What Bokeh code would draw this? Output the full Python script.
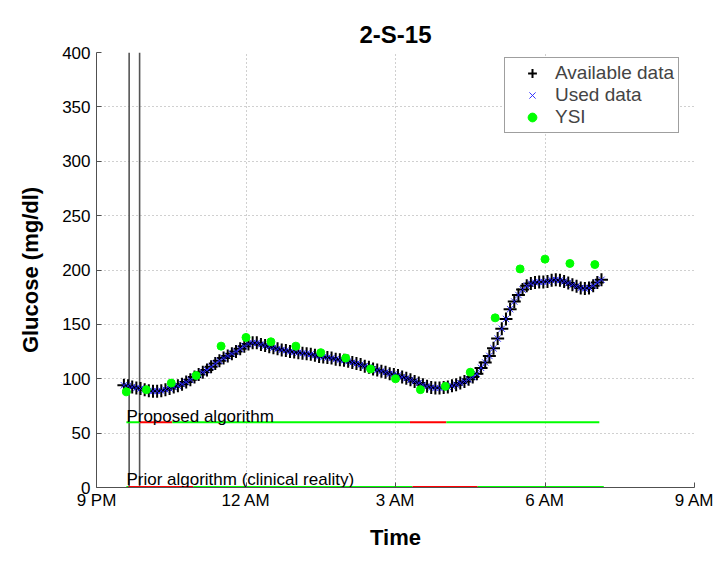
from bokeh.plotting import figure
from bokeh.models import Range1d, FixedTicker, Legend, LegendItem
from bokeh.embed import file_html
from bokeh.resources import INLINE
from bokeh.core.properties import value

FONT = "Liberation Sans"

title_text = "2-S-15"
x_tick_hours = [0, 3, 6, 9, 12]
x_tick_labels = ["9 PM", "12 AM", "3 AM", "6 AM", "9 AM"]
y_ticks = [0, 50, 100, 150, 200, 250, 300, 350, 400]

# CGM readings, every 5 minutes, starting 0.55 h after 9 PM
cgm_start_hour = 0.55
cgm_step_min = 5
cgm_values = [
    94, 93.5, 92.5, 91.5, 91, 90, 89, 88.5, 88.5, 89,
    90, 91, 92.5, 93.5, 95, 97, 99, 101.5, 104, 106,
    108, 111, 114, 116.5, 119, 121, 123, 125, 127.5, 130,
    132, 133, 133, 131.5, 130.5, 129.5, 128.5, 127.5, 126.5, 126,
    125, 124.5, 124, 123.5, 123, 122.5, 121.5, 120.5, 120, 119.5,
    119, 118, 117.5, 117, 116, 115, 114, 113, 111.5, 110.5,
    109, 108, 107, 106, 104.5, 104, 103, 101.5, 100.5, 99,
    97.5, 96, 94.5, 93, 92, 91.5, 91.5, 92, 92.5, 93.5,
    94.5, 96, 97.5, 99.5, 101.5, 104.5, 110, 115, 121, 128,
    137, 146, 155, 164, 171, 177, 182, 185.5, 187.5, 188.5,
    189, 189, 189.5, 190.5, 191, 190.5, 189.5, 188, 186.5, 185,
    183.5, 183, 183.5, 185.5, 188.5, 191,
]
cgm_hours = [cgm_start_hour + i * cgm_step_min / 60 for i in range(len(cgm_values))]

# YSI reference samples
ysi_hours = [0.6, 1.0, 1.5, 2.0, 2.5, 3.0, 3.5, 4.0, 4.5, 5.0,
             5.5, 6.0, 6.5, 7.0, 7.5, 8.0, 8.5, 9.0, 9.5, 10.0]
ysi_values = [88, 90, 96, 103, 130, 138, 134, 130, 124, 119,
              109, 100, 90, 93, 106, 156, 201, 210, 206, 205]

# calibration markers (hours after 9 PM)
calibration_hours = [0.655, 0.865]

# algorithm status bars
proposed_label = "Proposed algorithm"
proposed_level = 60
proposed_start = [0.60, 0.87, 1.52, 6.29, 7.02]
proposed_end = [0.87, 1.52, 6.29, 7.02, 10.09]
proposed_status = ["ok", "alarm", "ok", "alarm", "ok"]

prior_label = "Prior algorithm (clinical reality)"
prior_level = 0
prior_start = [0.60, 0.64, 1.94, 6.34, 7.65]
prior_end = [0.64, 1.94, 6.34, 7.65, 10.18]
prior_status = ["ok", "alarm", "ok", "alarm", "ok"]

status_colors = {"ok": "#00ff00", "alarm": "#ff0000"}

p = figure(width=714, height=557, output_backend="svg", toolbar_location=None,
           x_range=Range1d(0, 12), y_range=Range1d(0, 400),
           min_border_left=96, min_border_right=20, min_border_top=52, min_border_bottom=70)
p.outline_line_color = None

p.title.text = title_text
p.title.align = "center"
p.title.text_font = FONT
p.title.text_font_size = "24px"
p.title.text_font_style = "bold"
p.title.text_color = "black"
p.title.standoff = 10

# axes
for ax in (p.xaxis[0], p.yaxis[0]):
    ax.axis_line_color = "#505050"
    ax.major_tick_line_color = "#505050"
    ax.major_tick_in = 5
    ax.major_tick_out = 0
    ax.minor_tick_line_color = None
    ax.major_label_text_font = FONT
    ax.major_label_text_font_size = "17px"
    ax.major_label_text_color = "black"
    ax.axis_label_text_font = FONT
    ax.axis_label_text_font_size = "22px"
    ax.axis_label_text_font_style = "bold"
    ax.axis_label_text_color = "black"

p.xaxis.ticker = FixedTicker(ticks=x_tick_hours)
p.xaxis.major_label_overrides = {h: l for h, l in zip(x_tick_hours, x_tick_labels)}
p.xaxis.axis_label = "Time"
p.xaxis.major_label_standoff = 3
p.xaxis.axis_label_standoff = 12
p.yaxis.ticker = FixedTicker(ticks=y_ticks)
p.yaxis.axis_label = "Glucose (mg/dl)"
p.yaxis.major_label_standoff = 6
p.yaxis.axis_label_standoff = 16

for g in (p.xgrid[0], p.ygrid[0]):
    g.grid_line_color = "#a0a0a0"
    g.grid_line_dash = "1 3"
    g.grid_line_width = 1

# calibration vertical lines
p.segment(x0=calibration_hours, x1=calibration_hours, y0=[0] * len(calibration_hours),
          y1=[400] * len(calibration_hours), line_color="#555555", line_width=1.6)

# status bars
p.segment(x0=proposed_start, x1=proposed_end, y0=[proposed_level] * len(proposed_start),
          y1=[proposed_level] * len(proposed_start),
          line_color=[status_colors[s] for s in proposed_status], line_width=2)
p.segment(x0=prior_start, x1=prior_end, y0=[prior_level] * len(prior_start),
          y1=[prior_level] * len(prior_start),
          line_color=[status_colors[s] for s in prior_status], line_width=3)

p.text(x=[0.6], y=[proposed_level + 5], text=[proposed_label], text_font=value(FONT),
       text_font_size="17px", text_baseline="alphabetic", text_color="black")
p.text(x=[0.6], y=[prior_level + 7.5], text=[prior_label], text_font=value(FONT),
       text_font_size="17px", text_baseline="alphabetic", text_color="black")

r_avail = p.scatter(cgm_hours, cgm_values, marker="cross", size=13, line_color="black", line_width=2)
r_used = p.scatter(cgm_hours, cgm_values, marker="x", size=9, line_color="#2020ff", line_width=0.9)
r_ysi = p.scatter(ysi_hours, ysi_values, marker="circle", size=8, fill_color="#00ff00",
                  line_color="#00ff00")

legend = Legend(items=[LegendItem(label="Available data", renderers=[r_avail]),
                       LegendItem(label="Used data", renderers=[r_used]),
                       LegendItem(label="YSI", renderers=[r_ysi])],
                location=(408, 354))
legend.label_text_font = FONT
legend.label_text_font_size = "19px"
legend.padding = 4
legend.spacing = 0
legend.label_height = 22
legend.glyph_height = 22
legend.glyph_width = 46
legend.label_standoff = 0
legend.border_line_color = "#404040"
legend.border_line_width = 1
legend.background_fill_color = "white"
legend.background_fill_alpha = 1
legend.margin = 0
p.add_layout(legend, "center")

open("out.html", "w").write(file_html(p, INLINE))
